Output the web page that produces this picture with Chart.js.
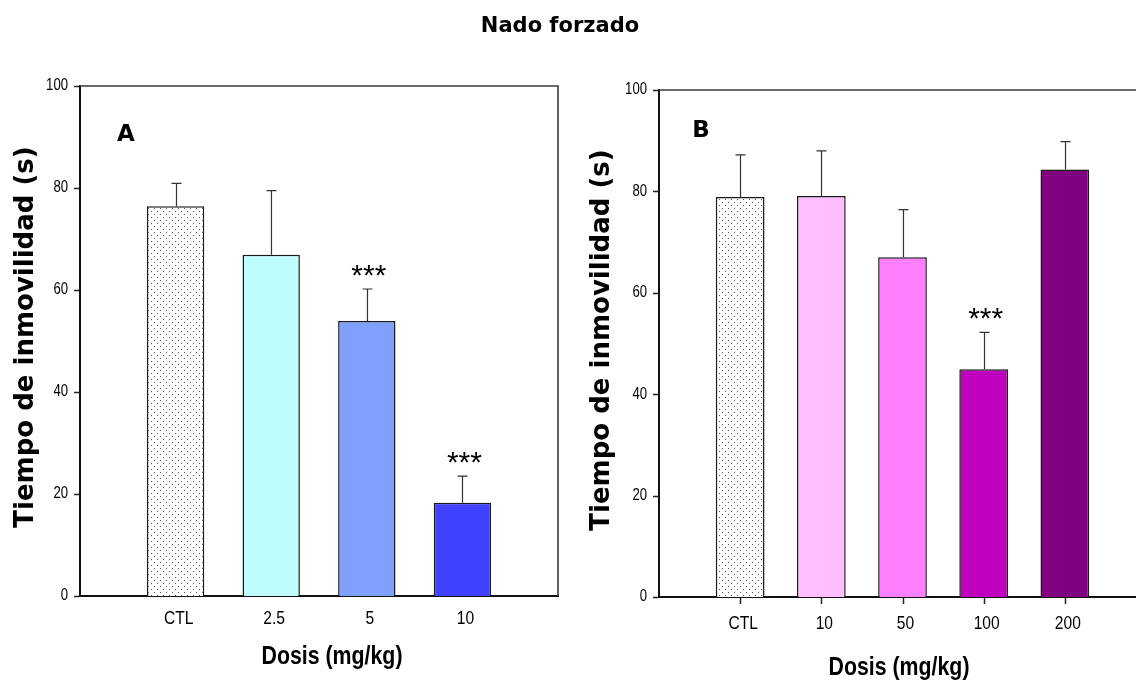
<!DOCTYPE html>
<html>
<head>
<meta charset="utf-8">
<script src="https://cdn.jsdelivr.net/npm/chart.js@4.4.1/dist/chart.umd.min.js"></script>
<style>
  html, body { margin: 0; padding: 0; background: #fff; overflow: hidden; width: 1136px; height: 680px; }
  #wrap { position: relative; width: 1136px; height: 680px; overflow: hidden; }
  canvas { position: absolute; top: 0; }
  #panelA { left: 0; }
  #panelB { left: 580px; }
</style>
</head>
<body>
<div id="wrap">
  <canvas id="panelA" width="660" height="680"></canvas>
  <canvas id="panelB" width="580" height="680"></canvas>
</div>
<script>
// Forced swim test: immobility time (s) per dose group, mean and SEM
const doseA = ['CTL', '2.5', '5', '10'];
const meanA = [76.4, 66.9, 53.9, 18.3];
const semA  = [4.5, 12.6, 6.3, 5.2];
const sigA  = ['', '', '***', '***'];

const doseB = ['CTL', '10', '50', '100', '200'];
const meanB = [78.9, 79.1, 67.0, 44.9, 84.3];
const semB  = [8.3, 8.9, 9.4, 7.3, 5.5];
const sigB  = ['', '', '', '***', ''];

const yTicks = [0, 20, 40, 60, 80, 100];

const mainTitle = 'Nado forzado';
const yTitle = 'Tiempo de inmovilidad (s)';
const xTitle = 'Dosis (mg/kg)';

const SANS = '"Liberation Sans", Arial, sans-serif';
const WIDE = '"DejaVu Sans", Verdana, sans-serif';
const SQUEEZE = 0.82; // condensed look for axis text

// stippled fill for the control bar
function dotPattern() {
  const c = document.createElement('canvas');
  c.width = 6; c.height = 6;
  const g = c.getContext('2d');
  g.fillStyle = '#fff';
  g.fillRect(0, 0, 6, 6);
  g.fillStyle = '#555';
  g.fillRect(1, 1, 1, 1);
  g.fillRect(4, 4, 1, 1);
  return document.getElementById('panelA').getContext('2d').createPattern(c, 'repeat');
}
const stipple = dotPattern();

function narrowText(ctx, text, x, y) {
  const w = ctx.measureText(text).width;
  ctx.fillText(text, x, y, w * SQUEEZE);
}

function decorations(cfg) {
  return {
    id: 'panelDecor',
    afterDatasetsDraw(chart) {
      const { ctx, scales: { y } } = chart;
      const meta = chart.getDatasetMeta(0);
      ctx.save();
      // upper error bars and significance marks
      cfg.mean.forEach((m, i) => {
        const bar = meta.data[i + 1];
        const px = Math.round(bar.x) + 0.5;
        const y0 = y.getPixelForValue(m);
        const y1 = y.getPixelForValue(m + cfg.sem[i]);
        ctx.strokeStyle = '#333';
        ctx.lineWidth = 1.2;
        ctx.beginPath();
        ctx.moveTo(px, y0);
        ctx.lineTo(px, y1);
        ctx.moveTo(px - 5, y1);
        ctx.lineTo(px + 5, y1);
        ctx.stroke();
        if (cfg.sig[i]) {
          ctx.fillStyle = '#000';
          ctx.font = '30px ' + SANS;
          ctx.textAlign = 'center';
          ctx.textBaseline = 'alphabetic';
          ctx.fillText(cfg.sig[i], bar.x + 2, y1 - 21 + 17);
        }
      });
      ctx.restore();
    },
    afterDraw(chart) {
      const { ctx, chartArea: a, scales: { x, y } } = chart;
      ctx.save();

      // top (and right) frame lines
      ctx.strokeStyle = '#3a3a3a';
      ctx.lineWidth = 1.6;
      ctx.beginPath();
      ctx.moveTo(a.left, a.top);
      ctx.lineTo(a.right, a.top);
      if (cfg.closed) ctx.lineTo(a.right, a.bottom);
      ctx.stroke();

      // outward tick marks on y, and on x where the panel has them
      ctx.strokeStyle = '#222';
      ctx.lineWidth = 1.5;
      ctx.beginPath();
      yTicks.forEach((v) => {
        const py = Math.round(y.getPixelForValue(v)) + 0.5;
        ctx.moveTo(a.left - 6, py);
        ctx.lineTo(a.left - 1, py);
      });
      if (cfg.xTicks) {
        cfg.cats.forEach((c, i) => {
          const px = Math.round(x.getPixelForValue(i + 1)) + 0.5;
          ctx.moveTo(px, a.bottom + 1);
          ctx.lineTo(px, a.bottom + 7);
        });
      }
      ctx.stroke();

      ctx.fillStyle = '#000';
      // tick labels, condensed
      ctx.textBaseline = 'middle';
      ctx.textAlign = 'center';
      ctx.font = '19px ' + SANS;
      cfg.cats.forEach((c, i) => {
        narrowText(ctx, c, x.getPixelForValue(i + 1) + 3, cfg.xLabelY);
      });
      ctx.textAlign = 'right';
      ctx.font = '16px ' + SANS;
      yTicks.forEach((v) => {
        narrowText(ctx, String(v), a.left - 12, y.getPixelForValue(v));
      });

      // axis titles
      ctx.textAlign = 'center';
      ctx.font = 'bold 26px ' + SANS;
      narrowText(ctx, xTitle, cfg.xTitlePos[0], cfg.xTitlePos[1]);

      ctx.save();
      ctx.translate(cfg.yTitlePos[0], cfg.yTitlePos[1]);
      ctx.rotate(-Math.PI / 2);
      ctx.font = 'bold 26px ' + WIDE;
      ctx.fillText(yTitle, 0, 0);
      ctx.restore();

      // panel letter
      ctx.font = 'bold 23px ' + WIDE;
      ctx.fillText(cfg.letter, cfg.letterPos[0], cfg.letterPos[1]);

      if (cfg.showMainTitle) {
        ctx.font = 'bold 21px ' + WIDE;
        ctx.fillText(mainTitle, 560, 27);
      }
      ctx.restore();
    }
  };
}

function makePanel(id, cats, mean, sem, sig, fills, box) {
  return new Chart(document.getElementById(id), {
    type: 'bar',
    data: {
      labels: ['', ...cats, ''],
      datasets: [{
        data: [null, ...mean, null],
        backgroundColor: [null, ...fills, null],
        borderColor: '#1a1a1a',
        borderWidth: 1.5,
        borderSkipped: 'bottom',
        categoryPercentage: 0.6,
        barPercentage: 1
      }]
    },
    options: {
      responsive: false,
      animation: false,
      devicePixelRatio: 1,
      layout: { padding: { left: 0, top: box.top, right: box.padRight, bottom: 0 } },
      plugins: { legend: { display: false }, tooltip: { enabled: false }, title: { display: false } },
      scales: {
        x: {
          offset: false,
          grid: { display: false, offset: false },
          border: { display: true, color: '#111', width: 2 },
          ticks: { display: false, autoSkip: false, maxRotation: 0 },
          afterFit(s) { s.height = box.xh; }
        },
        y: {
          min: 0,
          max: 100,
          afterBuildTicks(s) { s.ticks = yTicks.map(v => ({ value: v })); },
          grid: { display: false },
          border: { display: true, color: '#111', width: 2 },
          ticks: { display: false },
          afterFit(s) { s.width = box.yw; }
        }
      }
    },
    plugins: [decorations(Object.assign({ cats, mean, sem, sig }, box.decor))]
  });
}

makePanel('panelA', doseA, meanA, semA, sigA,
  [stipple, '#bffcfc', '#80a0ff', '#4040ff'],
  {
    top: 86, padRight: 102, xh: 84, yw: 80,
    decor: {
      closed: true, xTicks: false, letter: 'A', xLabelY: 619,
      letterPos: [126, 135], xTitlePos: [332, 657], yTitlePos: [26, 337], showMainTitle: true
    }
  });

makePanel('panelB', doseB, meanB, semB, sigB,
  [stipple, '#ffbfff', '#ff80ff', '#bf00bf', '#800080'],
  {
    top: 90, padRight: 14, xh: 83, yw: 79,
    decor: {
      closed: false, xTicks: true, letter: 'B', xLabelY: 624,
      letterPos: [121, 131], xTitlePos: [319, 668], yTitlePos: [22, 340], showMainTitle: false
    }
  });
</script>
</body>
</html>
